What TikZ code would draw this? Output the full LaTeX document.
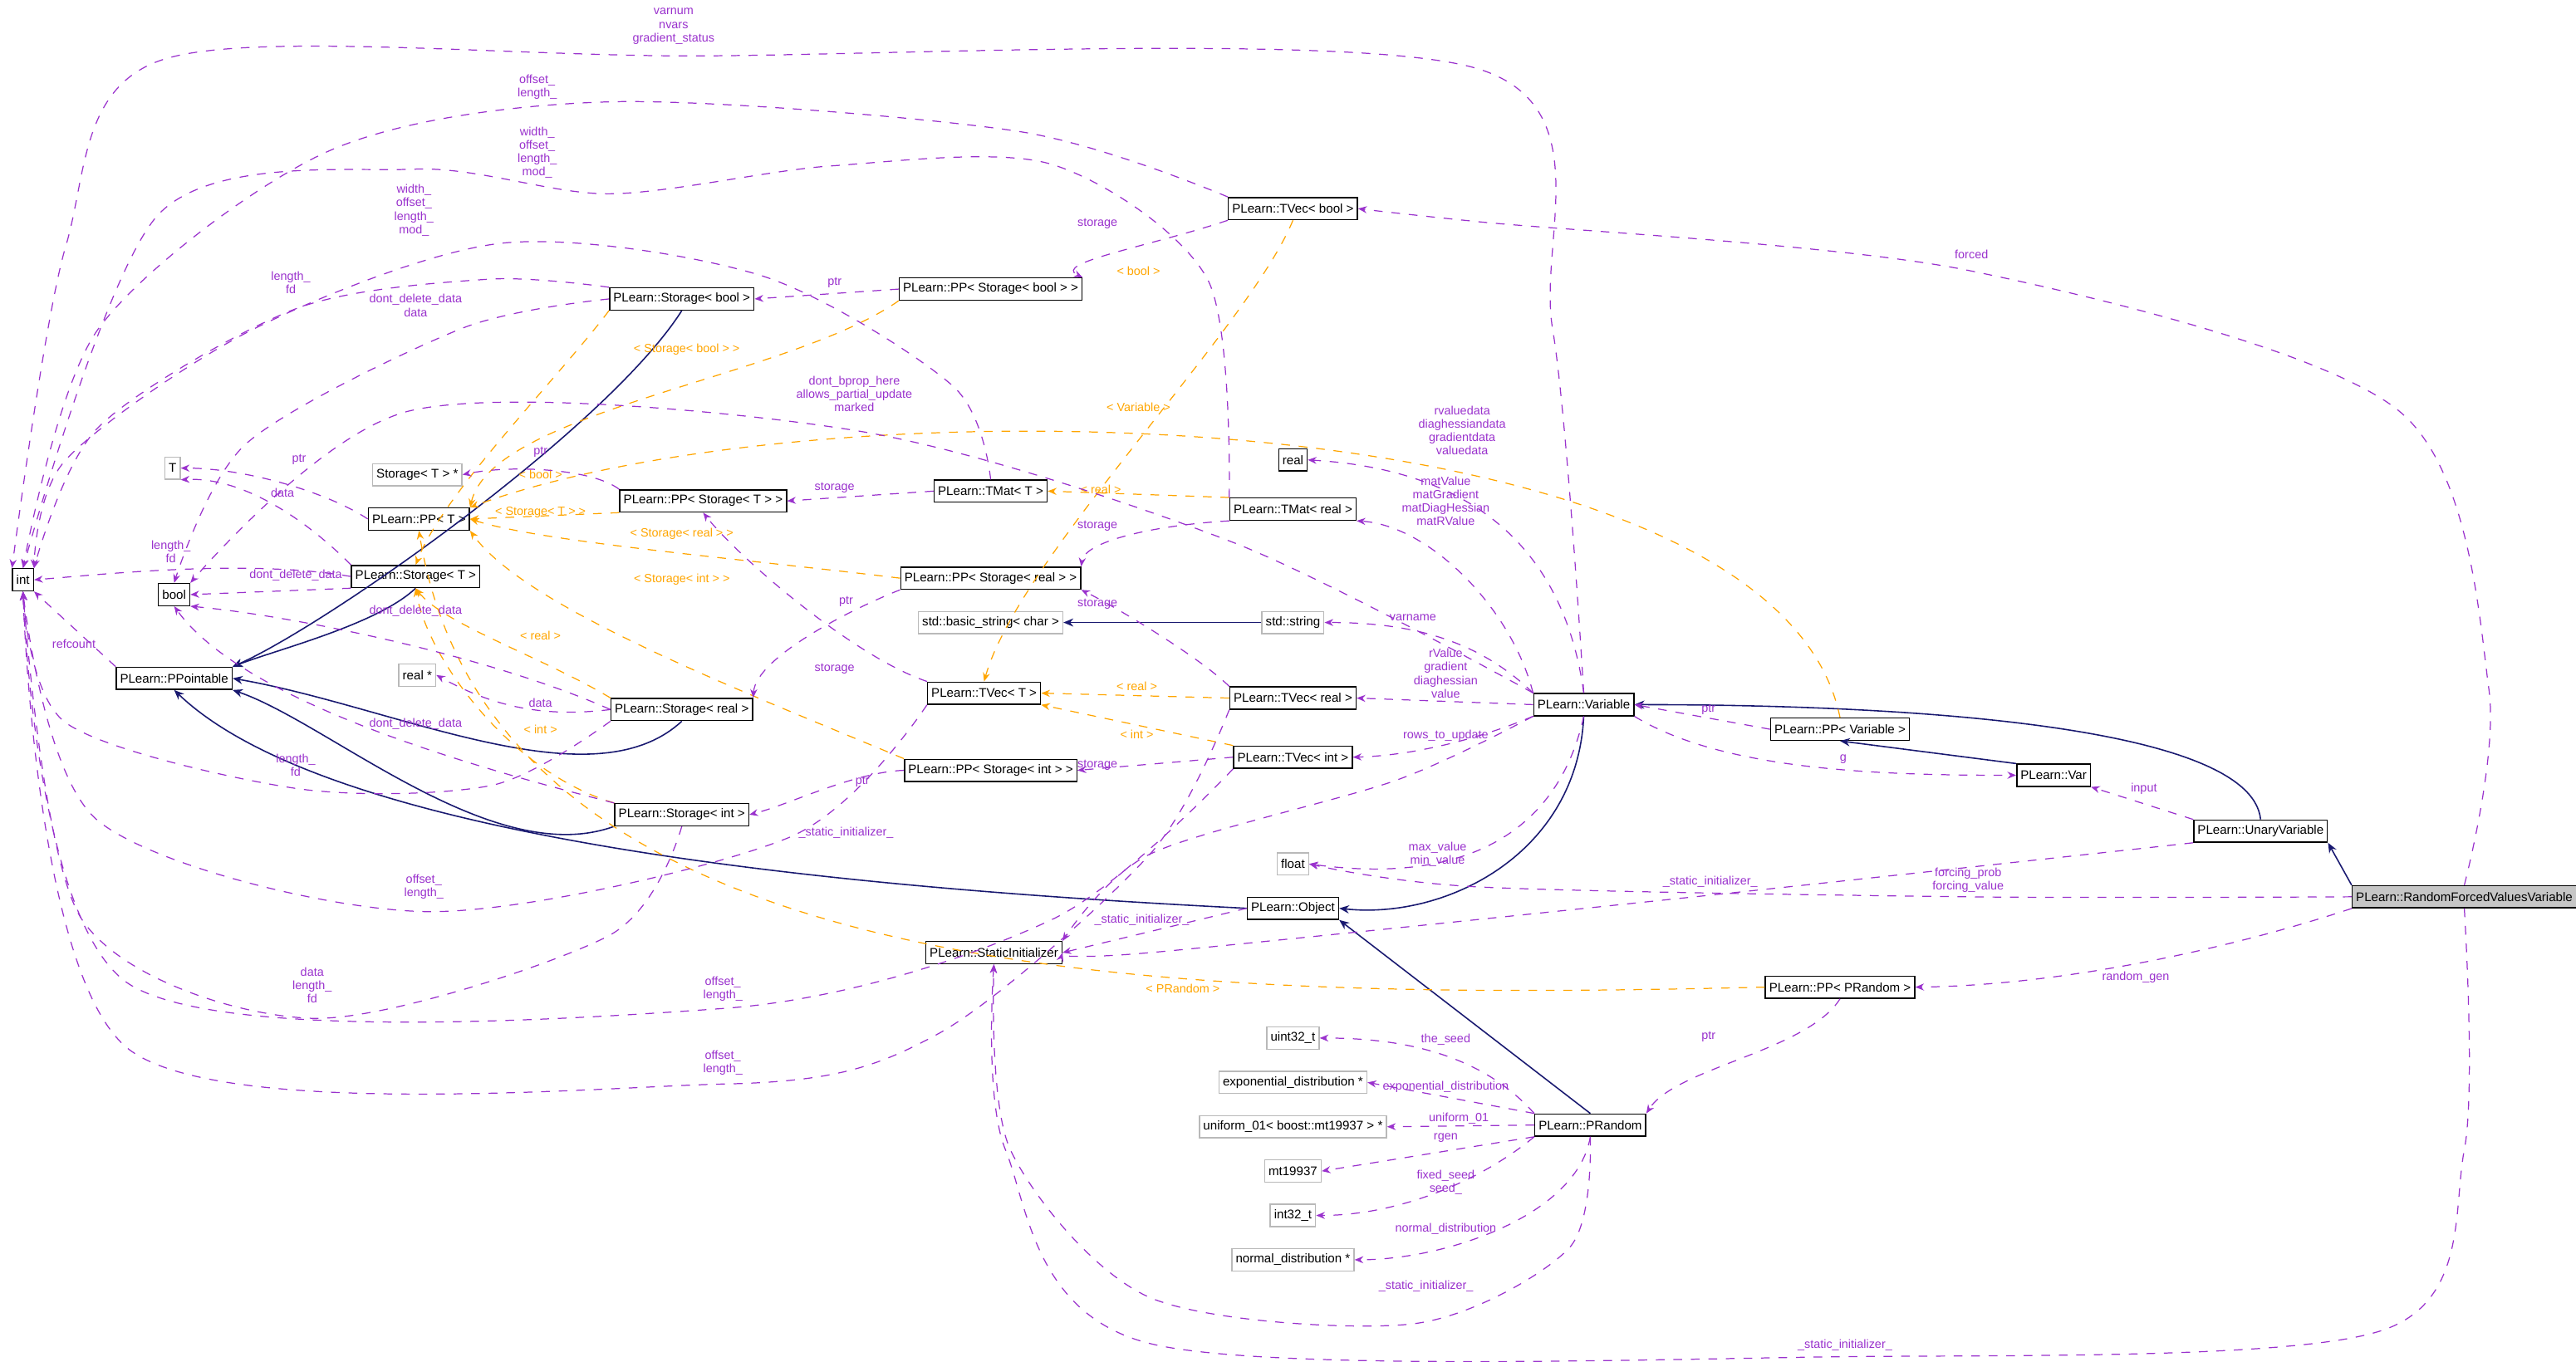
\documentclass[tikz,border=0pt]{standalone}
\usepackage{fontspec}
\setmainfont{Liberation Sans}
\usetikzlibrary{arrows.meta}
\definecolor{depc}{HTML}{9A32CD}
\definecolor{tmplc}{HTML}{FFA500}
\definecolor{inhc}{HTML}{191970}
\tikzset{
  cls/.style = {draw, rectangle, inner sep = 1.3pt, minimum height = 7.6pt, font = \fontsize{4.3}{5}\selectfont},
  ext/.style = {cls, draw = gray!55},
  sel/.style = {cls, fill = gray!45},
  lbl/.style = {inner sep = 0pt, align = center, font = \fontsize{4.1}{4.6}\selectfont},
  dep/.style = {depc, dashed, line width = .35pt, -{Stealth[length = 3pt, width = 2.4pt]}},
  tmpl/.style = {tmplc, dashed, line width = .35pt, -{Stealth[length = 3pt, width = 2.4pt]}},
  inh/.style = {inhc, line width = .45pt, -{Stealth[length = 3.4pt, width = 2.8pt]}}
}
\begin{document}
\begin{tikzpicture}[x = 0.01978cm, y = -0.01978cm]
    \useasboundingbox (0, 0) rectangle (1568, 829);
    % classes
    \node[cls] (int) at (14, 353) {int};
    \node[cls] (bool) at (106, 362) {bool};
    \node[ext] (T) at (105, 285) {T};
    \node[cls] (ppoint) at (106, 413) {PLearn::PPointable};
    \node[ext] (starT) at (254, 289) {Storage< T > *};
    \node[cls] (ppT) at (255, 316) {PLearn::PP< T >};
    \node[cls] (stT) at (253, 351) {PLearn::Storage< T >};
    \node[ext] (realstar) at (254, 411) {real *};
    \node[cls] (stbool) at (415, 182) {PLearn::Storage< bool >};
    \node[cls] (ppSbool) at (603, 176) {PLearn::PP< Storage< bool > >};
    \node[cls] (ppST) at (428, 305) {PLearn::PP< Storage< T > >};
    \node[cls] (tmatT) at (603, 299) {PLearn::TMat< T >};
    \node[cls] (ppSreal) at (603, 352) {PLearn::PP< Storage< real > >};
    \node[cls] (streal) at (415, 432) {PLearn::Storage< real >};
    \node[cls] (ppSint) at (603, 469) {PLearn::PP< Storage< int > >};
    \node[cls] (stint) at (415, 496) {PLearn::Storage< int >};
    \node[cls] (tvecT) at (599, 422) {PLearn::TVec< T >};
    \node[ext] (bstr) at (603, 379) {std::basic\_string< char >};
    \node[cls] (statinit) at (605, 580) {PLearn::StaticInitializer};
    \node[cls] (tvecbool) at (787, 127) {PLearn::TVec< bool >};
    \node[cls] (real) at (787, 280) {real};
    \node[cls] (tmatreal) at (787, 310) {PLearn::TMat< real >};
    \node[ext] (stdstr) at (787, 379) {std::string};
    \node[cls] (tvecreal) at (787, 425) {PLearn::TVec< real >};
    \node[cls] (tvecint) at (787, 461) {PLearn::TVec< int >};
    \node[ext] (float) at (787, 526) {float};
    \node[cls] (object) at (787, 553) {PLearn::Object};
    \node[cls] (variable) at (964, 429) {PLearn::Variable};
    \node[cls] (ppvar) at (1120, 444) {PLearn::PP< Variable >};
    \node[cls] (var) at (1250, 472) {PLearn::Var};
    \node[cls] (unary) at (1376, 506) {PLearn::UnaryVariable};
    \node[sel] (rfv) at (1500, 546) {PLearn::RandomForcedValuesVariable};
    \node[cls] (pprandom) at (1120, 601) {PLearn::PP< PRandom >};
    \node[cls] (prandom) at (968, 685) {PLearn::PRandom};
    \node[ext] (uint32) at (787, 632) {uint32\_t};
    \node[ext] (expd) at (787, 659) {exponential\_distribution *};
    \node[ext] (unif) at (787, 686) {uniform\_01< boost::mt19937 > *};
    \node[ext] (mt) at (787, 713) {mt19937};
    \node[ext] (int32) at (787, 740) {int32\_t};
    \node[ext] (normd) at (787, 767) {normal\_distribution *};
    % inheritance
    \draw[inh] (stbool.south) .. controls (370, 260) and (200, 380) .. (ppoint.north east);
    \draw[inh] (stT.south) .. controls (230, 380) and (170, 395) .. (ppoint.north east);
    \draw[inh] (streal.south) .. controls (360, 490) and (240, 430) .. (ppoint.east);
    \draw[inh] (stint.south west) .. controls (300, 530) and (200, 440) .. (ppoint.south east);
    \draw[inh] (object.west) .. controls (500, 540) and (200, 510) .. (ppoint.south);
    \draw[inh] (variable.south) .. controls (960, 520) and (880, 560) .. (object.east);
    \draw[inh] (prandom.north) -- (object.south east);
    \draw[inh] (unary.north) .. controls (1370, 440) and (1150, 429) .. (variable.east);
    \draw[inh] (rfv.north west) -- (unary.south east);
    \draw[inh] (var.north west) -- (ppvar.south);
    \draw[inh] (stdstr.west) -- (bstr.east);
    % template instances
    \draw[tmpl] (ppSbool.south west) .. controls (480, 230) and (300, 250) .. (ppT.north east)
        node[lbl] at (418, 213) {< Storage< bool > >};
    \draw[tmpl] (ppST.south west) -- (ppT.east) node[lbl] at (329, 312) {< Storage< T > >};
    \draw[tmpl] (ppSreal.west) .. controls (450, 340) and (330, 330) .. (ppT.east)
        node[lbl] at (415, 325) {< Storage< real > >};
    \draw[tmpl] (ppSint.north west) .. controls (450, 420) and (320, 370) .. (ppT.south east)
        node[lbl] at (415, 353) {< Storage< int > >};
    \draw[tmpl] (ppvar.north) .. controls (1080, 240) and (500, 230) .. (ppT.north east)
        node[lbl] at (693, 248) {< Variable >};
    \draw[tmpl] (pprandom.west) .. controls (700, 610) and (300, 600) .. (ppT.south)
        node[lbl] at (720, 602) {< PRandom >};
    \draw[tmpl] (stbool.south west) .. controls (340, 230) and (270, 300) .. (stT.north)
        node[lbl] at (329, 289) {< bool >};
    \draw[tmpl] (streal.north west) .. controls (330, 400) and (270, 380) .. (stT.south)
        node[lbl] at (329, 387) {< real >};
    \draw[tmpl] (stint.north west) .. controls (310, 470) and (260, 400) .. (stT.south)
        node[lbl] at (329, 444) {< int >};
    \draw[tmpl] (tvecbool.south) .. controls (760, 200) and (620, 340) .. (tvecT.north)
        node[lbl] at (693, 165) {< bool >};
    \draw[tmpl] (tvecreal.west) -- (tvecT.east) node[lbl] at (692, 418) {< real >};
    \draw[tmpl] (tvecint.north west) -- (tvecT.south east) node[lbl] at (692, 447) {< int >};
    \draw[tmpl] (tmatreal.north west) -- (tmatT.east) node[lbl] at (670, 298) {< real >};
    % members
    \draw[dep] (ppoint.north west) -- (int.south east) node[lbl] at (45, 392) {refcount};
    \draw[dep] plot[smooth] coordinates {(stbool.north west) (297, 170) (180, 188) (60, 260) (int.north east)}
        node[lbl] at (177, 172) {length\_\\fd};
    \draw[dep] plot[smooth] coordinates {(stbool.west) (281, 200) (150, 270) (bool.north)}
        node[lbl] at (253, 186) {dont\_delete\_data\\data};
    \draw[dep] (stT.west) .. controls (150, 340) and (60, 350) .. (int.east)
        node[lbl] at (104, 336) {length\_\\fd};
    \draw[dep] (stT.south west) -- (bool.east) node[lbl] at (180, 350) {dont\_delete\_data};
    \draw[dep] (stT.north west) .. controls (190, 320) and (150, 290) .. (T.south east)
        node[lbl] at (172, 300) {data};
    \draw[dep] (ppT.west) .. controls (200, 300) and (150, 285) .. (T.east)
        node[lbl] at (182, 280) {ptr};
    \draw[dep] (ppST.north west) .. controls (360, 285) and (310, 283) .. (starT.east)
        node[lbl] at (329, 275) {ptr};
    \draw[dep] (streal.west) .. controls (300, 400) and (180, 375) .. (bool.south east)
        node[lbl] at (253, 372) {dont\_delete\_data};
    \draw[dep] (streal.west) .. controls (330, 437) and (300, 430) .. (realstar.east)
        node[lbl] at (329, 428) {data};
    \draw[dep] plot[smooth] coordinates {(streal.south west) (300, 478) (180, 480) (40, 440) (int.south)}
        node[lbl] at (180, 466) {length\_\\fd};
    \draw[dep] (stint.north west) .. controls (300, 470) and (150, 430) .. (bool.south)
        node[lbl] at (253, 441) {dont\_delete\_data};
    \draw[dep] plot[smooth] coordinates {(stint.south) (370, 570) (190, 620) (50, 560) (int.south)}
        node[lbl] at (190, 600) {data\\length\_\\fd};
    \draw[dep] plot[smooth] coordinates {(tvecT.south west) (480, 510) (258, 555) (60, 500) (int.south)}
        node[lbl] at (258, 540) {offset\_\\length\_};
    \draw[dep] plot[smooth] coordinates {(tvecint.south west) (640, 560) (440, 614) (80, 600) (int.south)}
        node[lbl] at (440, 602) {offset\_\\length\_};
    \draw[dep] plot[smooth] coordinates {(tvecreal.south west) (700, 520) (570, 630) (440, 660) (80, 640) (int.south)}
        node[lbl] at (440, 647) {offset\_\\length\_};
    \draw[dep] plot[smooth] coordinates {(tmatT.north) (580, 235) (464, 168) (306, 148) (155, 200) (40, 280) (int.north east)}
        node[lbl] at (252, 128) {width\_\\offset\_\\length\_\\mod\_};
    \draw[dep] plot[smooth] coordinates {(tmatreal.north west) (735, 170) (640, 100) (506, 101) (371, 118) (252, 103) (97, 130) (int.north)}
        node[lbl] at (327, 93) {width\_\\offset\_\\length\_\\mod\_};
    \draw[dep] plot[smooth] coordinates {(tvecbool.north west) (620, 80) (371, 62) (200, 92) (60, 200) (int.north)}
        node[lbl] at (327, 53) {offset\_\\length\_};
    \draw[dep] plot[smooth] coordinates {(variable.north) (945, 200) (900, 42) (410, 34) (100, 36) (40, 150) (int.north west)}
        node[lbl] at (410, 16) {varnum\\nvars\\gradient\_status};
    \draw[dep] (ppSbool.west) -- (stbool.east) node[lbl] at (508, 172) {ptr};
    \draw[dep] (tvecbool.south west) .. controls (700, 150) and (640, 160) .. (ppSbool.north east)
        node[lbl] at (668, 136) {storage};
    \draw[dep] (tmatT.west) -- (ppST.east) node[lbl] at (508, 297) {storage};
    \draw[dep] (tvecT.north west) .. controls (520, 400) and (450, 340) .. (ppST.south)
        node[lbl] at (508, 407) {storage};
    \draw[dep] (ppSreal.south west) .. controls (520, 370) and (460, 400) .. (streal.north east)
        node[lbl] at (515, 366) {ptr};
    \draw[dep] (tmatreal.south west) .. controls (700, 320) and (660, 330) .. (ppSreal.north east)
        node[lbl] at (668, 320) {storage};
    \draw[dep] (tvecreal.north west) .. controls (730, 400) and (680, 370) .. (ppSreal.south east)
        node[lbl] at (668, 368) {storage};
    \draw[dep] (ppSint.west) .. controls (520, 470) and (480, 490) .. (stint.east)
        node[lbl] at (525, 476) {ptr};
    \draw[dep] (tvecint.west) -- (ppSint.east) node[lbl] at (668, 466) {storage};
    \draw[dep] (variable.north) .. controls (950, 320) and (880, 285) .. (real.east)
        node[lbl] at (890, 262) {rvaluedata\\diaghessiandata\\gradientdata\\valuedata};
    \draw[dep] (variable.north west) .. controls (920, 370) and (870, 320) .. (tmatreal.south east)
        node[lbl] at (880, 305) {matValue\\matGradient\\matDiagHessian\\matRValue};
    \draw[dep] (variable.north west) .. controls (900, 390) and (860, 379) .. (stdstr.east)
        node[lbl] at (860, 376) {varname};
    \draw[dep] (variable.west) -- (tvecreal.east)
        node[lbl] at (880, 410) {rValue\\gradient\\diaghessian\\value};
    \draw[dep] (variable.south west) .. controls (900, 450) and (860, 460) .. (tvecint.east)
        node[lbl] at (880, 448) {rows\_to\_update};
    \draw[dep] (variable.south) .. controls (950, 500) and (900, 540) .. (float.east)
        node[lbl] at (875, 520) {max\_value\\min\_value};
    \draw[dep] plot[smooth] coordinates {(variable.south west) (850, 475) (700, 520) (statinit.north east)}
        node[lbl] at (515, 507) {\_static\_initializer\_};
    \draw[dep] plot[smooth] coordinates {(variable.north west) (750, 330) (520, 262) (250, 250) (bool.north east)}
        node[lbl] at (520, 240) {dont\_bprop\_here\\allows\_partial\_update\\marked};
    \draw[dep] (ppvar.west) -- (variable.east) node[lbl] at (1040, 432) {ptr};
    \draw[dep] (variable.south east) .. controls (1050, 470) and (1150, 472) .. (var.west)
        node[lbl] at (1122, 462) {g};
    \draw[dep] (unary.north west) -- (var.south east) node[lbl] at (1305, 480) {input};
    \draw[dep] plot[smooth] coordinates {(unary.south west) (1041, 545) (700, 580) (statinit.east)}
        node[lbl] at (1041, 537) {\_static\_initializer\_};
    \draw[dep] (object.west) -- (statinit.east) node[lbl] at (695, 560) {\_static\_initializer\_};
    \draw[dep] plot[smooth] coordinates {(rfv.west) (1198, 546) (900, 540) (float.east)}
        node[lbl] at (1198, 536) {forcing\_prob\\forcing\_value};
    \draw[dep] plot[smooth] coordinates {(rfv.north) (1515, 420) (1460, 250) (1200, 165) (900, 135) (tvecbool.east)}
        node[lbl] at (1200, 155) {forced};
    \draw[dep] (rfv.south west) .. controls (1350, 580) and (1250, 600) .. (pprandom.east)
        node[lbl] at (1300, 595) {random\_gen};
    \draw[dep] plot[smooth] coordinates {(rfv.south) (1500, 700) (1450, 810) (1123, 826) (700, 818) (612, 700) (statinit.south)}
        node[lbl] at (1123, 819) {\_static\_initializer\_};
    \draw[dep] (pprandom.south) .. controls (1100, 640) and (1020, 650) .. (prandom.north east)
        node[lbl] at (1040, 631) {ptr};
    \draw[dep] (prandom.north west) .. controls (900, 640) and (850, 632) .. (uint32.east)
        node[lbl] at (880, 633) {the\_seed};
    \draw[dep] (prandom.north west) -- (expd.east) node[lbl] at (880, 662) {exponential\_distribution};
    \draw[dep] (prandom.west) -- (unif.east) node[lbl] at (888, 681) {uniform\_01};
    \draw[dep] (prandom.south west) -- (mt.east) node[lbl] at (880, 693) {rgen};
    \draw[dep] (prandom.south west) .. controls (900, 720) and (850, 740) .. (int32.east)
        node[lbl] at (880, 720) {fixed\_seed\\seed\_};
    \draw[dep] (prandom.south) .. controls (960, 740) and (880, 767) .. (normd.east)
        node[lbl] at (880, 748) {normal\_distribution};
    \draw[dep] plot[smooth] coordinates {(prandom.south) (955, 760) (860, 806) (700, 790) (615, 700) (statinit.south)}
        node[lbl] at (868, 783) {\_static\_initializer\_};
\end{tikzpicture}
\end{document}
